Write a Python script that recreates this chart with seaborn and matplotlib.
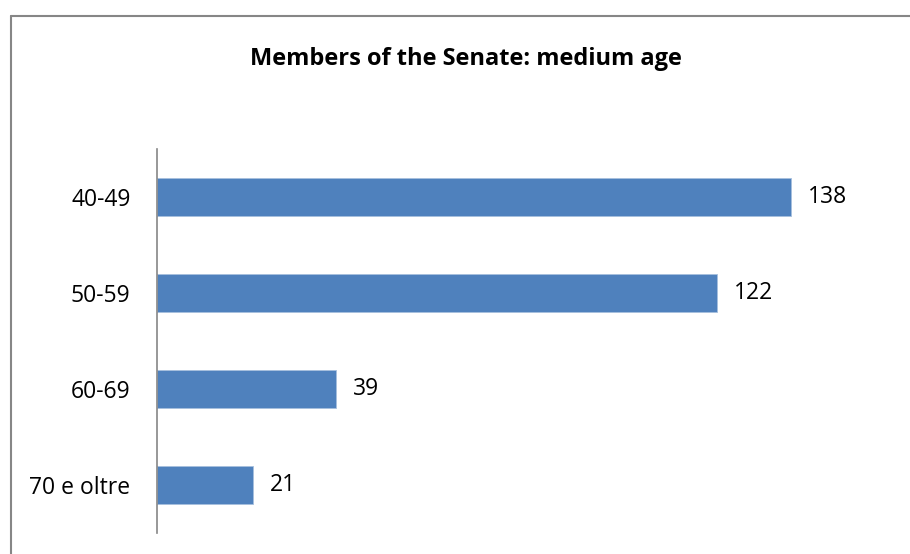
import matplotlib
matplotlib.use("Agg")
import matplotlib.pyplot as plt
import seaborn as sns
import pandas as pd
from matplotlib.lines import Line2D

categories = ["40-49", "50-59", "60-69", "70 e oltre"]
values = [138, 122, 39, 21]
title = "Members of the Senate: medium age"

sns.set_theme(style="white")
plt.rcParams['font.family'] = ['Open Sans', 'DejaVu Sans']

df = pd.DataFrame({"age": categories, "count": values})

fig = plt.figure(figsize=(9.1, 5.54), dpi=100)
W, H = 910, 554
ax = fig.add_axes([157 / W, 1 - 533 / H, (892 - 157) / W, (533 - 149) / H])

sns.barplot(data=df, y="age", x="count", orient="h", color="#4F81BD",
            width=0.4, ax=ax, saturation=1)
for p in ax.patches:
    p.set_edgecolor("#A7C0DE")
    p.set_linewidth(0.6)

ax.set_xlim(0, 160)
ax.set_ylim(3.5, -0.5)
ax.set_xlabel("")
ax.set_ylabel("")
ax.set_xticks([])
for s in ["top", "right", "bottom"]:
    ax.spines[s].set_visible(False)
ax.spines["left"].set_color("#868686")
ax.spines["left"].set_linewidth(1.2)
ax.tick_params(axis="y", length=0, pad=19, labelsize=16.5, labelcolor="black")

for c in ax.containers:
    ax.bar_label(c, padding=12, fontsize=16.5, color="black")

fig.text(466 / W, 1 - 59 / H, title, ha="center", va="center",
         fontsize=17, fontweight="bold", color="black")

# chart border (left and top edges visible)
fig.add_artist(Line2D([10.5 / W, 10.5 / W], [0, 1 - 16 / H], transform=fig.transFigure,
                      color="#868686", linewidth=1.5))
fig.add_artist(Line2D([10.5 / W, 1], [1 - 16 / H, 1 - 16 / H], transform=fig.transFigure,
                      color="#868686", linewidth=1.5))

fig.savefig("out.png", dpi=100, facecolor="white")
